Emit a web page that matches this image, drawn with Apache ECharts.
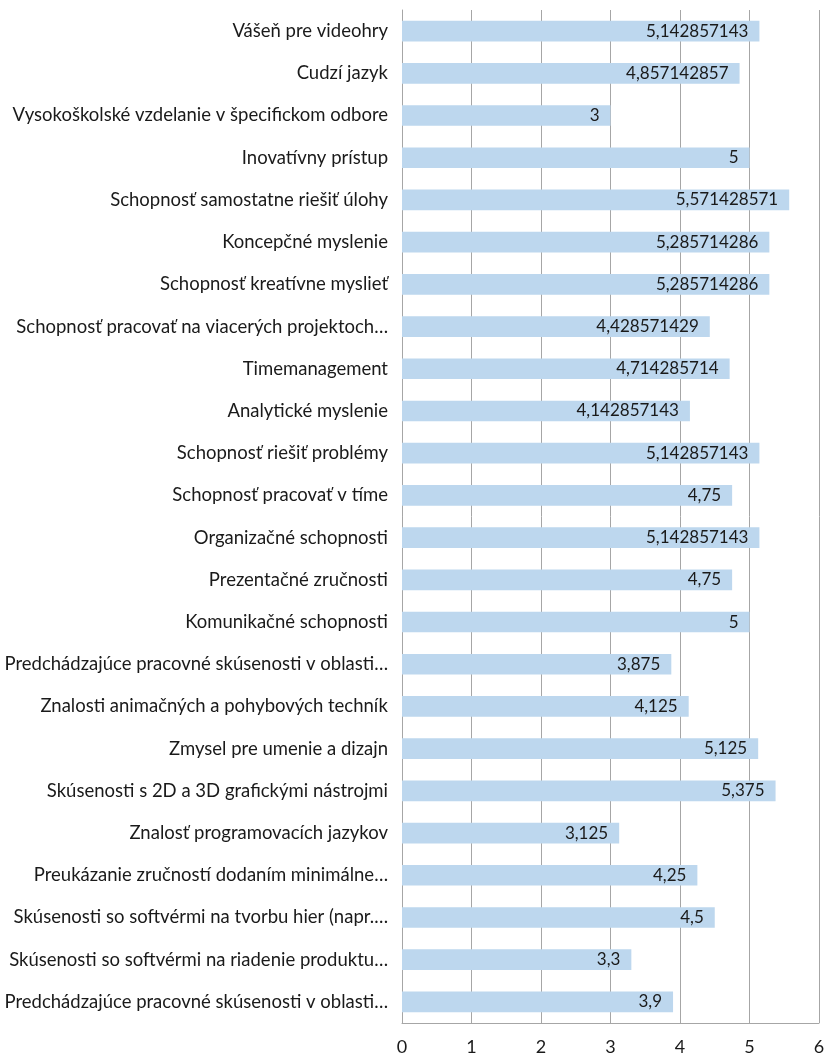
<!DOCTYPE html>
<html>
<head>
<meta charset="utf-8">
<script src="https://cdn.jsdelivr.net/npm/echarts@6/dist/echarts.min.js"></script>
<style>
  html, body { margin: 0; padding: 0; background: #ffffff; }
  #chart { width: 828px; height: 1059px; }
</style>
</head>
<body>
<div id="chart"></div>
<script>
// Skill categories, listed top to bottom
const categories = [
  'Vášeň pre videohry',
  'Cudzí jazyk',
  'Vysokoškolské vzdelanie v špecifickom odbore',
  'Inovatívny prístup',
  'Schopnosť samostatne riešiť úlohy',
  'Koncepčné myslenie',
  'Schopnosť kreatívne myslieť',
  'Schopnosť pracovať na viacerých projektoch…',
  'Timemanagement',
  'Analytické myslenie',
  'Schopnosť riešiť problémy',
  'Schopnosť pracovať v tíme',
  'Organizačné schopnosti',
  'Prezentačné zručnosti',
  'Komunikačné schopnosti',
  'Predchádzajúce pracovné skúsenosti v oblasti…',
  'Znalosti animačných a pohybových techník',
  'Zmysel pre umenie a dizajn',
  'Skúsenosti s 2D a 3D grafickými nástrojmi',
  'Znalosť programovacích jazykov',
  'Preukázanie zručností dodaním minimálne…',
  'Skúsenosti so softvérmi na tvorbu hier (napr.…',
  'Skúsenosti so softvérmi na riadenie produktu…',
  'Predchádzajúce pracovné skúsenosti v oblasti…'
];

// Average rating per category
const values = [
  5.142857143, 4.857142857, 3, 5, 5.571428571, 5.285714286, 5.285714286,
  4.428571429, 4.714285714, 4.142857143, 5.142857143, 4.75, 5.142857143,
  4.75, 5, 3.875, 4.125, 5.125, 5.375, 3.125, 4.25, 4.5, 3.3, 3.9
];

// Value axis ticks
const axisTicks = [0, 1, 2, 3, 4, 5, 6];

const FONT = 'Lato, "Open Sans", sans-serif';
const fmt = v => String(v).replace('.', ',');

const chart = echarts.init(document.getElementById('chart'));
chart.setOption({
  animation: false,
  backgroundColor: '#ffffff',
  grid: { left: 402, right: 9, top: 10, bottom: 36, containLabel: false },
  xAxis: {
    type: 'value',
    min: axisTicks[0],
    max: axisTicks[axisTicks.length - 1],
    interval: 1,
    axisLine: { show: true, lineStyle: { color: '#a6a6a6', width: 1 } },
    axisTick: { show: false },
    splitLine: { show: true, lineStyle: { color: '#a6a6a6', width: 1 } },
    axisLabel: { color: '#1a1a1a', fontSize: 18, fontFamily: FONT, margin: 15 }
  },
  yAxis: {
    type: 'category',
    inverse: true,
    data: categories,
    axisLine: { show: true, lineStyle: { color: '#a6a6a6', width: 1 } },
    axisTick: { show: false },
    splitLine: { show: false },
    axisLabel: { color: '#1a1a1a', fontSize: 18.5, fontFamily: FONT, margin: 14 }
  },
  series: [{
    type: 'bar',
    data: values,
    barWidth: '49%',
    itemStyle: { color: '#bdd7ee' },
    label: {
      show: true,
      position: 'insideRight',
      distance: 11,
      color: '#1a1a1a',
      fontSize: 17,
      fontFamily: FONT,
      formatter: p => fmt(p.value)
    }
  }]
});
</script>
</body>
</html>
